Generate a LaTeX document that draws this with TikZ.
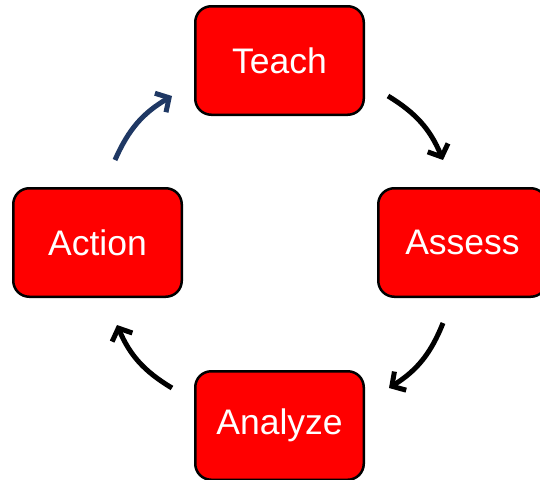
\documentclass[tikz,border=0pt]{standalone}
\usepackage{fontspec}
\setmainfont{Liberation Sans}
\usetikzlibrary{arrows.meta}
\definecolor{boxred}{RGB}{255,0,0}
\definecolor{cyclenavy}{RGB}{31,56,100}

\begin{document}
\begin{tikzpicture}[x=1pt,y=-1pt]

      \clip (0,0) rectangle (540,479);

      \begin{scope}[every node/.style={rectangle,rounded corners=16pt,draw,line width=2.5pt,fill=boxred,text=white,minimum width=168.5pt,minimum height=108.5pt,font=\fontsize{35.5}{42}\selectfont}]
        \node (teach)   at (279.5,60.5)  {Teach};
        \node (assess)  at (462.5,242.5) {Assess};
        \node (analyze) at (279.5,425.5) {Analyze};
        \node (action)  at (97.5,242.5)  {Action};
      \end{scope}

      % arrow ends
      \coordinate (ta1) at (388,96);
      \coordinate (ta2) at (443,160);
      \coordinate (aa1) at (443,323);
      \coordinate (aa2) at (389,388);
      \coordinate (ac1) at (172,388);
      \coordinate (ac2) at (117,325);
      \coordinate (at1) at (115,160);
      \coordinate (at2) at (172,96);

      \begin{scope}[every edge/.style={draw,line width=5pt,-{Straight Barb[length=10pt,width=22pt]}}]
        \path (ta1) edge[bend left=18] (ta2);
        \path (aa1) edge[bend left=18] (aa2);
        \path (ac1) edge[bend left=18] (ac2);
        \path (at1) edge[bend left=18,cyclenavy] (at2);
      \end{scope}

    \end{tikzpicture}
\end{document}
